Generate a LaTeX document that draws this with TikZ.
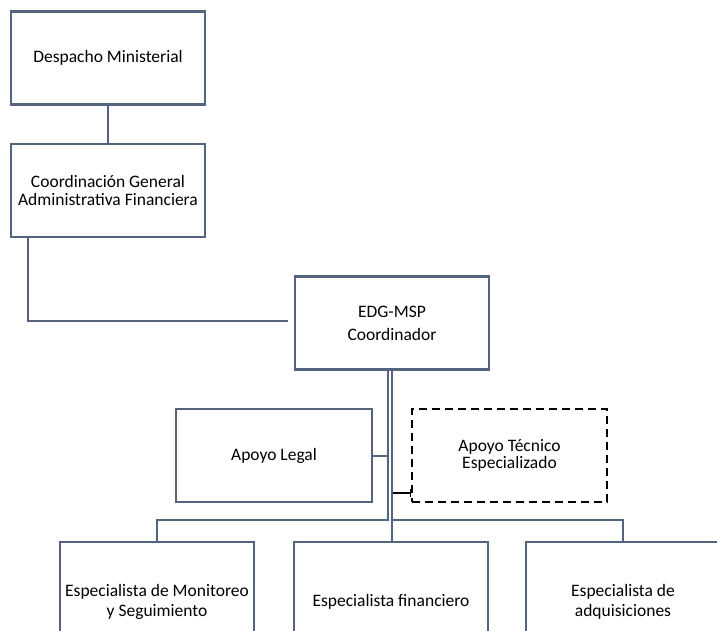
\documentclass[tikz,border=0pt]{standalone}
\usepackage{fontspec}
\setmainfont{Carlito}
\usetikzlibrary{arrows.meta}
\definecolor{frame}{RGB}{84,99,128}
\tikzset{
  orgbox/.style={draw=frame, line width=2.2pt, minimum width=#1, minimum height=93pt, inner sep=0pt, align=center, font=\fontsize{17.5}{18.5}\selectfont},
  orgbox/.default=194pt,
  tecbox/.style={draw=black, line width=2pt, dash pattern=on 8pt off 5pt, minimum width=195pt, minimum height=93pt, inner sep=0pt, align=center, font=\fontsize{17.5}{17}\selectfont},
  link/.style={draw=frame, line width=2pt},
  tecline/.style={draw=black, line width=1.4pt, -{Bar[width=8pt,line width=1.4pt]}}
}
\begin{document}
\begin{tikzpicture}[x=1pt,y=-1pt]
\useasboundingbox (0,0) rectangle (717,630);
\begin{scope}
\clip (0,0) rectangle (717,630);
\node[orgbox] (desp) at (108,58) {Despacho Ministerial};
\node[orgbox] (coord) at (108,190.5) {Coordinación General\\Administrativa Financiera};
\node[orgbox, font=\fontsize{17.5}{23}\selectfont] (edg) at (392,323) {EDG-MSP\\Coordinador};
\node[orgbox=196pt] (legal) at (274,455.5) {Apoyo Legal};
\node[tecbox] (tec) at (509.5,455.5) {Apoyo Técnico\\Especializado};
\node[orgbox, minimum height=120pt, font=\fontsize{17.5}{19.5}\selectfont] (bl) at (157,602) {Especialista de Monitoreo\\y Seguimiento};
\node[orgbox, minimum height=120pt, font=\fontsize{17.5}{19.5}\selectfont] (bm) at (391,602) {Especialista financiero};
\node[orgbox, minimum height=120pt, font=\fontsize{17.5}{19.5}\selectfont] (br) at (623,602) {Especialista de\\adquisiciones};
% connectors
\draw[link] (desp.south) -- (coord.south |- coord.north);
\draw[link] ([xshift=18pt]coord.south west) |- ([shift={(-6pt,2pt)}]edg.west);
\draw[link] ([xshift=-4.5pt]edg.south) -- ++(0,149) -| (bl.north);
\draw[link] ([xshift=0pt]edg.south) -- ([xshift=1pt]bm.north);
\draw[link] ([xshift=0pt]edg.south) -- ++(0,149) -| (br.north);
\draw[link] (legal.east) -- ([xshift=-4.5pt]edg.south |- legal.east);
\path ([yshift=-37.5pt]tec.west) coordinate (tecin);
\draw[tecline] ([xshift=1pt]edg.south |- tecin) -- (tecin);
\end{scope}
\end{tikzpicture}
\end{document}
